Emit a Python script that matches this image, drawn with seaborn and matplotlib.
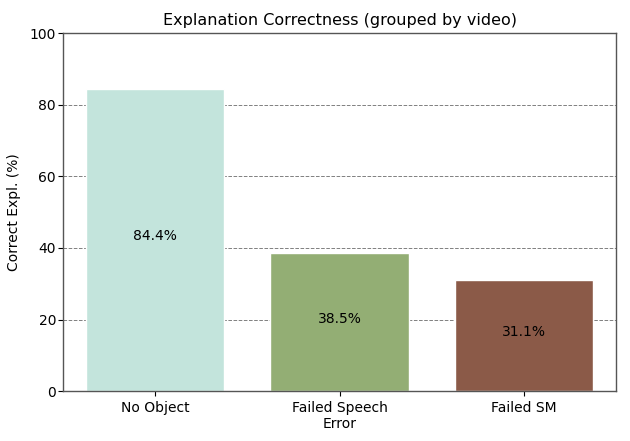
import matplotlib
matplotlib.use("Agg")
import matplotlib.pyplot as plt
import seaborn as sns
import pandas as pd

# 数据
categories = ["No Object", "Failed Speech\nError", "Failed SM"]
correct_pct = [84.4, 38.5, 31.1]
bar_colors = ["#c3e4dc", "#93ae74", "#8b5a48"]

df = pd.DataFrame({"cat": categories, "pct": correct_pct})

sns.set_style("white")
plt.rcParams["font.family"] = ["DejaVu Sans"]
plt.rcParams["text.color"] = "black"
plt.rcParams["axes.labelcolor"] = "black"
plt.rcParams["xtick.color"] = "black"
plt.rcParams["ytick.color"] = "black"

fig = plt.figure(figsize=(6.3, 4.41), dpi=100)
ax = fig.add_axes([0.1, 0.113, 0.878, 0.812])

sns.barplot(data=df, x="cat", y="pct", hue="cat", palette=bar_colors,
            saturation=1, width=0.75, edgecolor="white", linewidth=1,
            legend=False, ax=ax)

# 柱内标签
for i, v in enumerate(correct_pct):
    ax.text(i, v / 2 + 1, f"{v}%", ha="center", va="center", fontsize=10, color="black")

ax.set_ylim(0, 100)
ax.set_yticks([0, 20, 40, 60, 80, 100])
ax.yaxis.grid(True, linestyle="--", color="gray", linewidth=0.7)
ax.set_axisbelow(True)
ax.set_xlabel("")
ax.set_ylabel("Correct Expl. (%)", fontsize=10, labelpad=6)
ax.set_title("Explanation Correctness (grouped by video)", fontsize=11.5)
ax.tick_params(axis="both", labelsize=10, length=3.5, direction="out",
               left=True, bottom=True, colors="black")
ax.tick_params(axis="y", pad=1.5)
for s in ax.spines.values():
    s.set_color("#555555")
    s.set_linewidth(1)

fig.savefig("out.png", dpi=100)
